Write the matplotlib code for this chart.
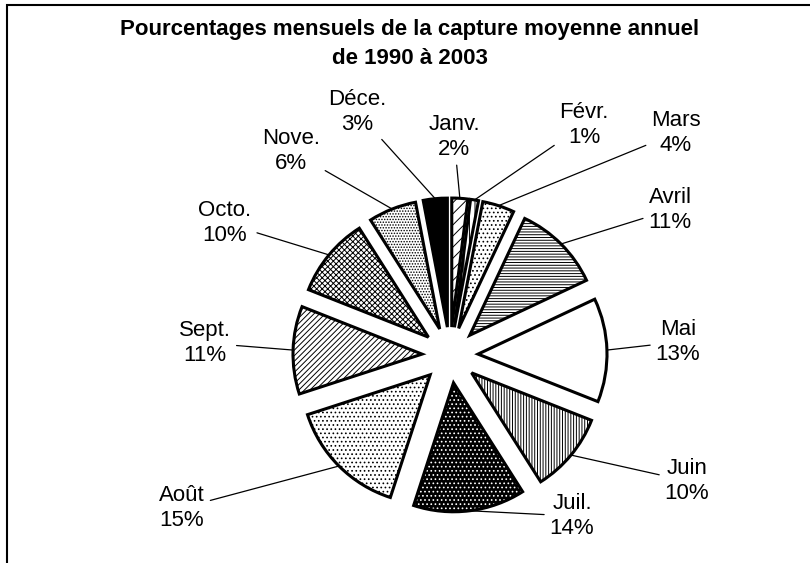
import numpy as np
import matplotlib.pyplot as plt

# mois et pourcentages
mois = ["Janv.", "Févr.", "Mars", "Avril", "Mai", "Juin",
        "Juil.", "Août", "Sept.", "Octo.", "Nove.", "Déce."]
pourcentages = [2, 1, 4, 11, 13, 10, 14, 15, 11, 10, 6, 3]

# motifs de remplissage (style noir et blanc)
fonds = ["white", "white", "white", "white", "white", "white",
         "black", "white", "white", "white", "white", "black"]
hachures = ["///", "|||", "....", "------", "", "||||||",
            "....", "....", "//////", "xxxxxx", "......", ""]
couleurs_hachures = ["black"] * 6 + ["white"] + ["black"] * 5

# position des étiquettes (pixels, origine en bas à gauche)
pos_etiquettes = [(454, 426), (584, 438), (676, 430), (670, 353),
                  (678, 221), (687, 82), (572, 47), (182, 55),
                  (205, 220), (225, 340), (291, 412), (357, 451)]

plt.rcParams['font.family'] = ['Liberation Sans', 'DejaVu Sans']
plt.rcParams['hatch.linewidth'] = 0.7

fig = plt.figure(figsize=(8.1, 5.63), dpi=100)
ax = fig.add_axes([0, 0, 1, 1])

centre = (450, 208)
rayon = 129
ecart = 28  # décalage des parts, en pixels

# remplissage avec hachures
parts, _ = ax.pie(pourcentages, explode=[ecart] * 12, startangle=90,
                  counterclock=False, center=centre, radius=rayon,
                  colors=fonds, frame=True,
                  wedgeprops=dict(linewidth=0))
for w, h, hc in zip(parts, hachures, couleurs_hachures):
    w.set_hatch(h)
    w.set_edgecolor(hc)

# contours
contours, _ = ax.pie(pourcentages, explode=[ecart] * 12, startangle=90,
                     counterclock=False, center=centre, radius=rayon,
                     frame=True,
                     wedgeprops=dict(facecolor='none', edgecolor='black',
                                     linewidth=2.2))
ax.set_xlim(0, 810)
ax.set_ylim(0, 563)
ax.set_aspect('equal')
ax.axis('off')

# étiquettes avec lignes de rappel
for w, nom, p, (tx, ty) in zip(contours, mois, pourcentages, pos_etiquettes):
    ang = np.deg2rad((w.theta1 + w.theta2) / 2)
    cx, cy = w.center
    px = cx + rayon * np.cos(ang)
    py = cy + rayon * np.sin(ang)
    ax.annotate(f"{nom}\n{p}%", xy=(px, py), xytext=(tx, ty),
                ha='center', va='center', fontsize=16, linespacing=1.2,
                arrowprops=dict(arrowstyle='-', color='black', lw=0.9,
                                shrinkA=2, shrinkB=0))

ax.text(410, 519, "Pourcentages mensuels de la capture moyenne annuel\nde 1990 à 2003",
        ha='center', va='center', fontsize=16, fontweight='bold',
        linespacing=1.45)

# cadre
ax.add_patch(plt.Rectangle((7, -10), 900, 563 - 5 + 10, fill=False,
                           edgecolor='black', linewidth=1.5, clip_on=False))

fig.savefig("out.png", dpi=100)
